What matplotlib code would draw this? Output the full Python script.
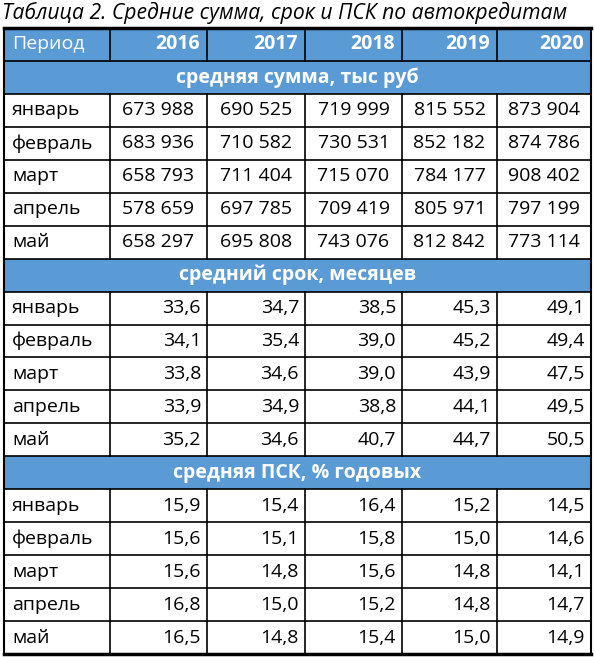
import matplotlib
matplotlib.use("Agg")
import matplotlib.pyplot as plt
from matplotlib.patches import Rectangle

title = "Таблица 2. Средние сумма, срок и ПСК по автокредитам"
header = ["Период", "2016", "2017", "2018", "2019", "2020"]
months = ["январь", "февраль", "март", "апрель", "май"]
sections = ["средняя сумма, тыс руб", "средний срок, месяцев", "средняя ПСК, % годовых"]
amount = [["673 988", "690 525", "719 999", "815 552", "873 904"],
          ["683 936", "710 582", "730 531", "852 182", "874 786"],
          ["658 793", "711 404", "715 070", "784 177", "908 402"],
          ["578 659", "697 785", "709 419", "805 971", "797 199"],
          ["658 297", "695 808", "743 076", "812 842", "773 114"]]
term = [["33,6", "34,7", "38,5", "45,3", "49,1"],
        ["34,1", "35,4", "39,0", "45,2", "49,4"],
        ["33,8", "34,6", "39,0", "43,9", "47,5"],
        ["33,9", "34,9", "38,8", "44,1", "49,5"],
        ["35,2", "34,6", "40,7", "44,7", "50,5"]]
psk = [["15,9", "15,4", "16,4", "15,2", "14,5"],
       ["15,6", "15,1", "15,8", "15,0", "14,6"],
       ["15,6", "14,8", "15,6", "14,8", "14,1"],
       ["16,8", "15,0", "15,2", "14,8", "14,7"],
       ["16,5", "14,8", "15,4", "15,0", "14,9"]]
data = [amount, term, psk]

W, H = 595, 657
fig = plt.figure(figsize=(W/100, H/100), dpi=100)
ax = fig.add_axes([0, 0, 1, 1])
ax.set_xlim(0, W); ax.set_ylim(H, 0); ax.axis("off")
font = "Open Sans"
fs = 14
blue = "#5B9BD5"

ax.text(2, 13, title, fontsize=15.2, style="italic", family=font, va="center", ha="left")

xs = [4, 110, 207, 305, 402, 497, 591]
top, bot = 28, 654
nrows = 19
rh = (bot - top) / nrows

def ry(i):
    return top + i * rh

ax.add_patch(Rectangle((xs[0], ry(0)), xs[-1]-xs[0], rh, color=blue, lw=0))
ax.text(xs[0]+8, ry(0.5), header[0], color="white", fontsize=fs, family=font, va="center")
for j in range(1, 6):
    ax.text(xs[j+1]-7, ry(0.5), header[j], color="white", fontsize=fs, family=font,
            weight="bold", va="center", ha="right")
r = 1
for s, sec in enumerate(sections):
    ax.add_patch(Rectangle((xs[0], ry(r)), xs[-1]-xs[0], rh, color=blue, lw=0))
    ax.text((xs[0]+xs[-1])/2, ry(r+0.5), sec, color="white", fontsize=fs, family=font,
            weight="bold", va="center", ha="center")
    r += 1
    for i, m in enumerate(months):
        ax.text(xs[0]+8, ry(r+0.5), m, fontsize=fs, family=font, va="center")
        for j in range(5):
            if s == 0:
                ax.text((xs[j+1]+xs[j+2])/2, ry(r+0.5), data[s][i][j], fontsize=fs,
                        family=font, va="center", ha="center")
            else:
                ax.text(xs[j+2]-6, ry(r+0.5), data[s][i][j], fontsize=fs,
                        family=font, va="center", ha="right")
        r += 1

for i in range(nrows + 1):
    ax.plot([xs[0], xs[-1]], [ry(i), ry(i)], color="black", lw=1.2)
sec_rows = [1, 7, 13]
for x in xs:
    if x in (xs[0], xs[-1]):
        ax.plot([x, x], [top, bot], color="black", lw=1.5)
    else:
        ax.plot([x, x], [ry(0), ry(1)], color="black", lw=1.2)
        for sr in sec_rows:
            ax.plot([x, x], [ry(sr+1), ry(sr+6)], color="black", lw=1.2)
ax.plot([xs[0], xs[-1]], [top, top], color="black", lw=2.5)
ax.plot([xs[0], xs[-1]], [bot, bot], color="black", lw=2.5)
fig.savefig("out.png", dpi=100)
